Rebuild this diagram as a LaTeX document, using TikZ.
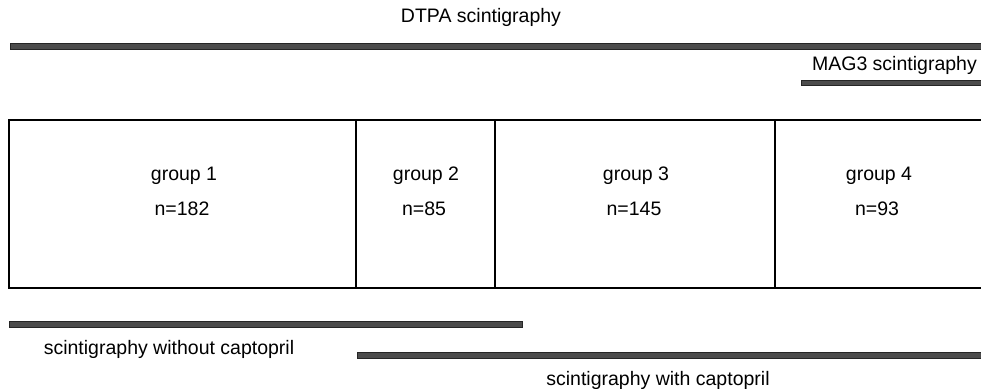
\documentclass[tikz,border=0pt]{standalone}
\usepackage{fontspec}
\setmainfont{Liberation Sans}
\begin{document}
\begin{tikzpicture}[x=1pt,y=-1pt,
  lbl/.style={inner sep=0pt, font=\fontsize{19.5}{23}\selectfont},
  bar/.style={fill=black!70, draw=black!85, line width=0.6pt},
  frame/.style={draw=black, line width=1.8pt}]
\useasboundingbox (0,0) rectangle (981,388);

% study periods
\node[lbl] (dtpa) at (481,17) {DTPA scintigraphy};
\filldraw[bar] (10,43) rectangle (981,49);
\node[lbl, anchor=east] (mag) at (977,65) {MAG3 scintigraphy};
\filldraw[bar] (801,80) rectangle (981,85);

% group table
\draw[frame] (981,120) -- (9,120) -- (9,288) -- (981,288);
\draw[frame] (356,120) -- (356,288);
\draw[frame] (495,120) -- (495,288);
\draw[frame] (775,120) -- (775,288);

\node[lbl] (g1) at (184,176) {group 1};
\node[lbl] (n1) at (182,209) {n=182};
\node[lbl] (g2) at (426,176) {group 2};
\node[lbl] (n2) at (424,209) {n=85};
\node[lbl] (g3) at (636,176) {group 3};
\node[lbl] (n3) at (634,209) {n=145};
\node[lbl] (g4) at (879,176) {group 4};
\node[lbl] (n4) at (877,209) {n=93};

% captopril periods
\filldraw[bar] (9,321) rectangle (522,327);
\node[lbl] (without) at (169,349) {scintigraphy without captopril};
\filldraw[bar] (357,352) rectangle (981,358);
\node[lbl] (with) at (658,380) {scintigraphy with captopril};
\end{tikzpicture}
\end{document}
